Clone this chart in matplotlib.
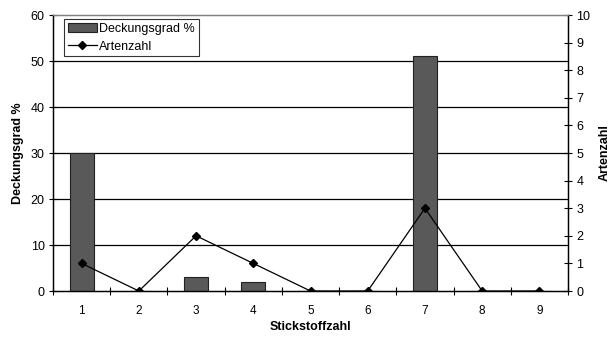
import numpy as np
import matplotlib
matplotlib.use('Agg')
import matplotlib.pyplot as plt
from matplotlib.ticker import MultipleLocator

plt.rcParams['font.family'] = ['Liberation Sans', 'DejaVu Sans']

# data
stickstoffzahl = ['1', '2', '3', '4', '5', '6', '7', '8', '9']
deckungsgrad = [30, 0, 3, 2, 0, 0, 51, 0, 0]
artenzahl = [1, 0, 2, 1, 0, 0, 3, 0, 0]

x = np.arange(len(stickstoffzahl))

fig = plt.figure(figsize=(6.15, 3.4), dpi=100)
ax = fig.add_axes([53/615, 1 - 291/340, (568-53)/615, (291-15)/340])
ax2 = ax.twinx()

ax.set_zorder(1)
ax.patch.set_visible(False)
ax2.set_zorder(0)

# gridlines on the left scale
for v in range(10, 60, 10):
    ax2.axhline(v / 6, color='black', lw=0.9, zorder=0)

bars = ax.bar(x, deckungsgrad, width=0.42, color='#595959', edgecolor='#222222',
              lw=0.8, label='Deckungsgrad %', zorder=2)
ax.set_ylim(0, 60)
ax.set_xlim(-0.5, len(x) - 0.5)
ax.yaxis.set_major_locator(MultipleLocator(10))

# line belongs to the right scale (0-10), drawn in the left axes to stay on top
line, = ax.plot(x, np.array(artenzahl) * 6, color='black', lw=0.9, marker='D',
                markersize=4, label='Artenzahl', zorder=3)
ax2.set_ylim(0, 10)
ax2.yaxis.set_major_locator(MultipleLocator(1))

ax.set_xticks(x)
ax.set_xticklabels(stickstoffzahl)
ax.set_xticks(np.arange(-0.5, len(x)), minor=True)
ax.tick_params(axis='x', which='major', length=0, pad=10, labelsize=8.5)
ax.tick_params(axis='x', which='minor', direction='inout', length=6, width=0.8)
ax.tick_params(axis='y', direction='inout', length=6, width=0.8, labelsize=9, pad=3)
ax2.tick_params(axis='y', direction='inout', length=6, width=0.8, labelsize=9, pad=3)

for a in (ax, ax2):
    a.spines['top'].set_color('#808080')
    a.spines['top'].set_linewidth(0.9)
    a.spines['left'].set_linewidth(0.9)
    a.spines['right'].set_linewidth(0.9)
    a.spines['bottom'].set_linewidth(0.9)

ax.set_ylabel('Deckungsgrad %', fontsize=9, fontweight='bold', labelpad=5)
ax2.set_ylabel('Artenzahl', fontsize=9, fontweight='bold', labelpad=6)
ax.set_xlabel('Stickstoffzahl', fontsize=9, fontweight='bold', labelpad=3)

leg = ax.legend(handles=[bars, line], loc='upper left', bbox_to_anchor=(0.022, 0.985),
                fontsize=9, frameon=True, fancybox=False, edgecolor='black',
                borderpad=0.3, handlelength=2.3, handletextpad=0.2, labelspacing=0.45,
                borderaxespad=0)
leg.get_frame().set_linewidth(0.8)

fig.savefig('out.png', dpi=100)
